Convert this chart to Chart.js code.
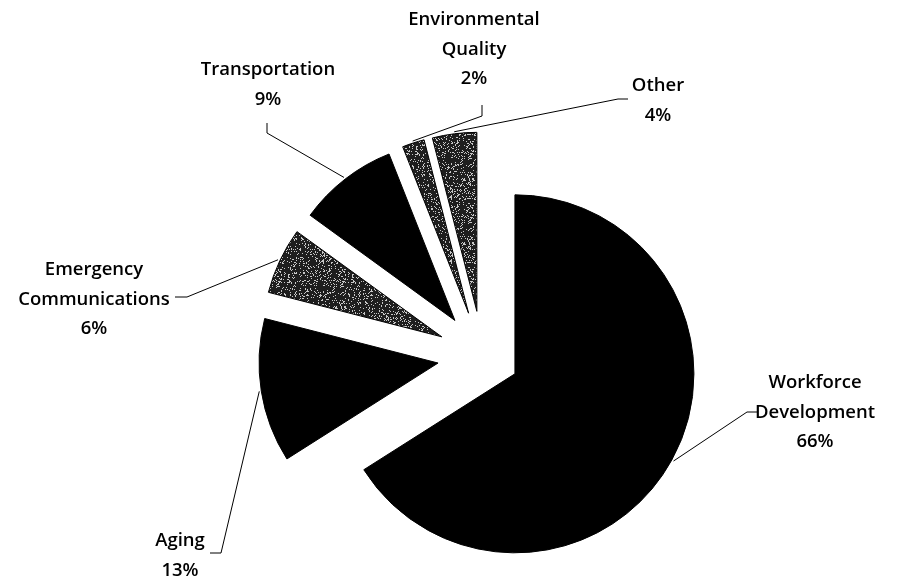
<!DOCTYPE html>
<html>
<head>
<meta charset="utf-8">
<script src="https://cdn.jsdelivr.net/npm/chart.js@4.4.1/dist/chart.umd.min.js"></script>
<style>
  html, body { margin: 0; padding: 0; background: #fff; }
  #wrap { width: 897px; height: 580px; position: relative; }
</style>
</head>
<body>
<div id="wrap"><canvas id="grantChart"></canvas></div>
<script>
// Share of funding by program area (%)
const categories = ['Workforce Development', 'Aging', 'Emergency Communications', 'Transportation', 'Environmental Quality', 'Other'];
const shares = [66, 13, 6, 9, 2, 4];

// Label text per slice, drawn as stacked centred lines
const labelLines = [
    ['Workforce', 'Development', '66%'],
    ['Aging', '13%'],
    ['Emergency', 'Communications', '6%'],
    ['Transportation', '9%'],
    ['Environmental', 'Quality', '2%'],
    ['Other', '4%']
];

// Label placement: centre x, first-line y, and the short elbow of the leader line
const labelLayout = [
    { x: 815, y: 383, elbow: [758, 412, 747, 412] },
    { x: 180, y: 541, elbow: [210, 553, 221, 553] },
    { x: 94, y: 270, elbow: [175, 297, 187, 297] },
    { x: 268, y: 70, elbow: [267, 123, 267, 133] },
    { x: 474, y: 20, elbow: [482, 105, 482, 116] },
    { x: 658, y: 86, elbow: [628, 99, 618, 99] }
];

// How far each slice is pulled out from the centre
const explode = [37, 45, 45, 45, 45, 45];

// Speckled grey fill for the smaller slices
function speckle() {
    const c = document.createElement('canvas');
    c.width = 64; c.height = 64;
    const g = c.getContext('2d');
    g.fillStyle = '#1e1e1e';
    g.fillRect(0, 0, 64, 64);
    g.fillStyle = '#c8c8c8';
    for (let y = 0; y < 64; y++) {
        for (let x = 0; x < 64; x++) {
            let h = Math.imul(x, 374761393) + Math.imul(y, 668265263);
            h = Math.imul(h ^ (h >>> 13), 1274126177);
            h = (h ^ (h >>> 16)) >>> 0;
            if (h / 4294967296 < 0.17) g.fillRect(x, y, 1, 1);
        }
    }
    return g.createPattern(c, 'repeat');
}
const dots = speckle();
const fills = ['#000', '#000', dots, '#000', dots, dots];

function shiftArcs(chart, sign) {
    chart.getDatasetMeta(0).data.forEach((arc, i) => {
        const mid = (arc.startAngle + arc.endAngle) / 2;
        arc.x += sign * Math.cos(mid) * explode[i];
        arc.y += sign * Math.sin(mid) * explode[i];
    });
}

const explodedLabels = {
    id: 'explodedLabels',
    beforeDatasetsDraw(chart) {
        shiftArcs(chart, 1);
    },
    afterDatasetsDraw(chart) {
        const ctx = chart.ctx;
        ctx.save();
        ctx.strokeStyle = '#000';
        ctx.lineWidth = 1;
        chart.getDatasetMeta(0).data.forEach((arc, i) => {
            const mid = (arc.startAngle + arc.endAngle) / 2;
            const r = arc.outerRadius + 2;
            const px = arc.x + Math.cos(mid) * r;
            const py = arc.y + Math.sin(mid) * r;
            const e = labelLayout[i].elbow;
            ctx.beginPath();
            ctx.moveTo(e[0], e[1]);
            ctx.lineTo(e[2], e[3]);
            ctx.lineTo(px, py);
            ctx.stroke();
        });
        ctx.fillStyle = '#000';
        ctx.font = '600 18.5px "Open Sans", sans-serif';
        ctx.textAlign = 'center';
        ctx.textBaseline = 'middle';
        labelLines.forEach((lines, i) => {
            lines.forEach((t, j) => {
                ctx.fillText(t, labelLayout[i].x, labelLayout[i].y + j * 29.5);
            });
        });
        ctx.restore();
        shiftArcs(chart, -1);
    }
};

new Chart(document.getElementById('grantChart'), {
    type: 'pie',
    data: {
        labels: categories,
        datasets: [{
            data: shares,
            backgroundColor: fills,
            borderColor: '#000',
            borderWidth: 1
        }]
    },
    options: {
        responsive: true,
        maintainAspectRatio: false,
        animation: false,
        layout: {
            padding: { top: 176.5, bottom: 44.5, left: 303, right: 235 }
        },
        plugins: {
            legend: { display: false },
            tooltip: { enabled: false }
        }
    },
    plugins: [explodedLabels]
});
</script>
</body>
</html>
